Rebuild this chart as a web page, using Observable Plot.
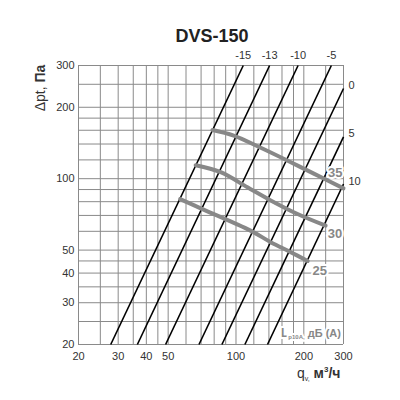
<!DOCTYPE html>
<html><head><meta charset="utf-8">
<script src="https://cdn.jsdelivr.net/npm/d3@7"></script>
<script src="https://cdn.jsdelivr.net/npm/@observablehq/plot@0.6"></script>
<style>
body{margin:0;background:#fff}
svg{font-family:"Liberation Sans",Arial,Helvetica,sans-serif}
</style>
</head><body><div id="chart"></div>
<script>
// ---- data ----
const gridTicks = [20,25,30,35,40,45,50,60,70,80,90,100,120,140,160,180,200,250,300];
const xTickLabels = [20,30,40,50,100,200,300];
const yTickLabels = [20,30,40,50,100,200,300];

// system (duct) characteristic lines: label, start point, end point
const systemLabels = ["-15","-13","-10","-5","0","5","10"];
const systemQ1 = [27.8, 36.5, 48.7, 68.5, 86.6, 109.5, 138];
const systemP1 = [20, 20, 20, 20, 20, 20, 20];
const systemQ2 = [107.7, 141, 188.6, 265, 300, 300, 300];
const systemP2 = [300, 300, 300, 300, 240, 150, 95];

// fan curves (grey), labelled by noise level
const fanLabels = ["35","30","25"];
const fan35 = [[78.6,160.5],[97.7,152],[128.8,135],[169.8,119],[221.5,105],[300,91]];
const fan30 = [[66.2,114],[85.5,106.5],[112.4,92],[142.6,81],[187.6,71],[250,63.4]];
const fan25 = [[56.5,82],[69.7,75],[116,60.4],[142.6,54],[175,49],[208,45]];
const fanLabelQ = [275.6, 275, 235.6];
const fanLabelP = [106, 58.4, 40.8];

// ---- build tables ----
const systemRows = systemLabels.map((label,i)=>({label, q1:systemQ1[i], p1:systemP1[i], q2:systemQ2[i], p2:systemP2[i]}));
const fanRows = [fan35, fan30, fan25].flatMap((pts,i)=>pts.map(([q,p])=>({label:fanLabels[i], q, p})));
const fanLabelRows = fanLabels.map((label,i)=>({label, q:fanLabelQ[i], p:fanLabelP[i]}));

const plot = Plot.plot({
  width: 400, height: 400,
  marginLeft: 78, marginRight: 57, marginTop: 65, marginBottom: 56,
  style: {background: "#fff", color: "#333", fontSize: "11px", fontFamily: '"Liberation Sans",Arial,sans-serif'},
  x: {type: "log", domain: [20, 300], axis: null},
  y: {type: "log", domain: [20, 300], axis: null},
  marks: [
    Plot.gridX(gridTicks, {stroke: "#8a8a8a", strokeOpacity: 1, strokeWidth: 1}),
    Plot.gridY(gridTicks, {stroke: "#8a8a8a", strokeOpacity: 1, strokeWidth: 1}),
    Plot.text(xTickLabels, {x: d => d, text: d => String(d), frameAnchor: "bottom", lineAnchor: "top", dy: 8, fontSize: 11, fill: "#333"}),
    Plot.text(yTickLabels, {y: d => d, text: d => String(d), frameAnchor: "left", textAnchor: "end", dx: -4, fontSize: 11, fill: "#333"}),
    Plot.link(systemRows, {x1: "q1", y1: "p1", x2: "q2", y2: "p2", stroke: "#000", strokeWidth: 1.6}),
    Plot.line(fanRows, {x: "q", y: "p", z: "label", stroke: "#888", strokeWidth: 4, curve: "catmull-rom"}),
    Plot.text(systemRows.filter(d => d.p2 === 300), {x: "q2", y: "p2", text: "label", dy: -10, fontSize: 11, fill: "#333"}),
    Plot.text(systemRows.filter(d => d.q2 === 300), {x: "q2", y: "p2", text: "label", dx: 5, dy: -3, textAnchor: "start", fontSize: 11, fill: "#333"}),
    Plot.text(fanLabelRows, {x: "q", y: "p", text: "label", fill: "#888", stroke: "white", strokeWidth: 4, paintOrder: "stroke", fontWeight: "bold", fontSize: 13})
  ]
});
document.getElementById("chart").appendChild(plot);

const svg = d3.select(plot);
// title
svg.append("text").attr("x", 212).attr("y", 41.5).attr("text-anchor", "middle")
  .attr("font-size", 18).attr("font-weight", "bold").attr("fill", "#222").text("DVS-150");
// y label
const yl = svg.append("text").attr("transform", "translate(45,88) rotate(-90)")
  .attr("text-anchor", "middle").attr("font-size", 14).attr("fill", "#333");
yl.append("tspan").text("Δpt, ");
yl.append("tspan").attr("font-weight", "bold").text("Па");
// x label
const xl = svg.append("text").attr("x", 297).attr("y", 378).attr("text-anchor", "start")
  .attr("font-size", 14).attr("fill", "#333");
xl.append("tspan").text("q");
xl.append("tspan").attr("font-size", 7).attr("dy", 3).text("v,");
xl.append("tspan").attr("font-weight", "bold").attr("dy", -3).text(" м");
xl.append("tspan").attr("font-weight", "bold").attr("font-size", 8).attr("dy", -6).text("3");
xl.append("tspan").attr("font-weight", "bold").attr("dy", 6).text("/ч");
// noise label
const nl = svg.append("text").attr("x", 281).attr("y", 336.5).attr("text-anchor", "start")
  .attr("font-size", 11).attr("fill", "#888").attr("font-weight", "bold")
  .attr("stroke", "white").attr("stroke-width", 4).attr("paint-order", "stroke").attr("stroke-linejoin", "round");
nl.append("tspan").attr("font-size", 12).text("L");
nl.append("tspan").attr("font-size", 6).attr("dy", 2.5).text("p10A,");
nl.append("tspan").attr("dy", -2.5).text(" дБ (A)");
</script>
</body></html>
